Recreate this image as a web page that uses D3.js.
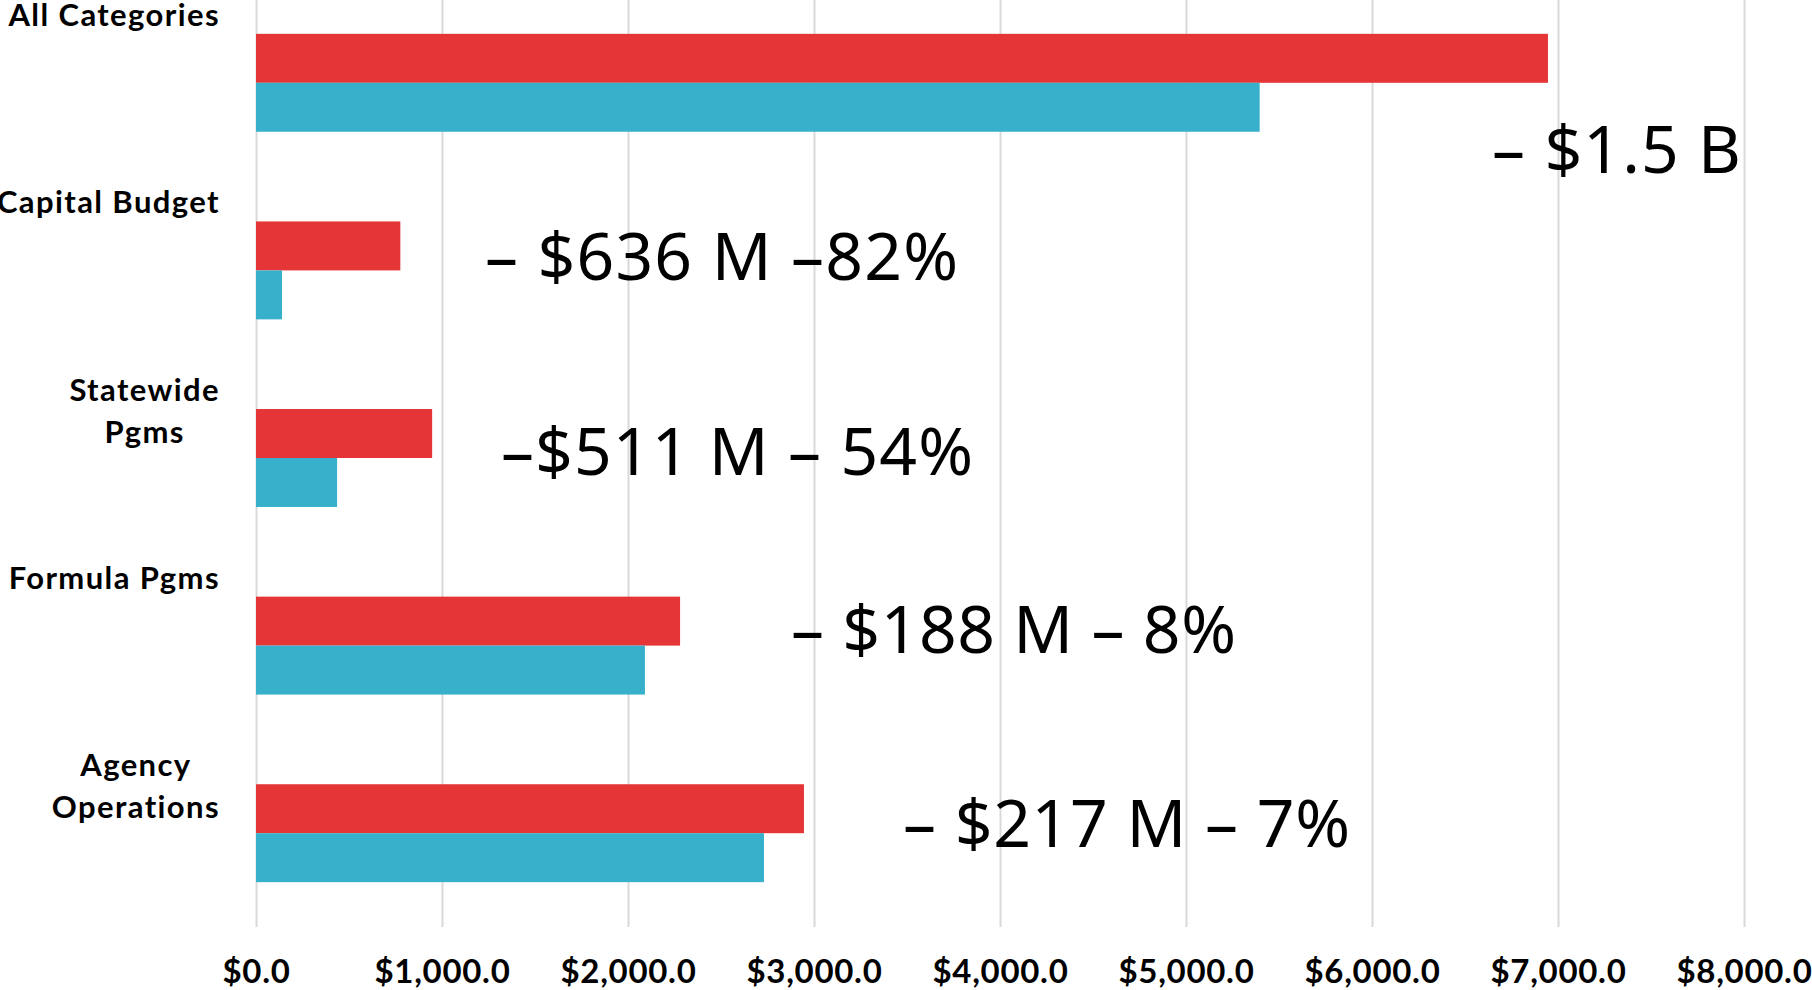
<!DOCTYPE html>
<html lang="en">
  <head>
    <meta charset="utf-8">
    <title>Budget by Category</title>
    <script type="text/javascript" src="https://cdn.jsdelivr.net/npm/d3@7"></script>
    <style>
      html, body { margin: 0; padding: 0; background: #fff; overflow: hidden; }
      .cat-label { font-family: Lato, "Open Sans", sans-serif; font-weight: 700; font-size: 31px; letter-spacing: 1.4px; fill: #000; }
      .axis-text { font-family: Lato, "Open Sans", sans-serif; font-weight: 700; font-size: 33px; letter-spacing: 0.7px; fill: #000; }
      .note { font-family: "Noto Sans", "Open Sans", sans-serif; font-weight: 400; font-size: 66px; fill: #000; }
    </style>
  </head>
  <body>
    <script type="text/javascript">
      // data ($ millions)
      var categories = ["All Categories", "Capital Budget", "Statewide Pgms", "Formula Pgms", "Agency Operations"];
      var labelLines = [["All Categories"], ["Capital Budget"], ["Statewide", "Pgms"], ["Formula Pgms"], ["Agency", "Operations"]];
      var series = ["prior", "current"];
      var priorValues = [6946, 776, 947, 2280, 2946];
      var currentValues = [5396, 140, 436, 2091, 2731];
      var tickValues = [0, 1000, 2000, 3000, 4000, 5000, 6000, 7000, 8000];
      var notes = ["– $1.5 B", "– $636 M –82%", "–$511 M – 54%", "– $188 M – 8%", "– $217 M – 7%"];

      // layout of the change notes (left x, baseline y, width)
      var noteLayout = [[1492, 173, 249], [485, 280, 473], [501, 475, 472], [791, 653, 445], [903, 847, 447]];

      var w = 1812;
      var h = 990;
      var plotBottom = 927;
      var colors = { prior: "#E53536", current: "#36B0CB" };

      var svg = d3.select("body")
        .append("svg")
        .attr("width", w)
        .attr("height", h);

      var xScale = d3.scaleLinear()
        .domain([0, 8000])
        .range([256, 1744]);

      var yScale = d3.scaleBand()
        .domain(categories)
        .range([-11, plotBottom])
        .paddingInner(0.478)
        .paddingOuter(0.239);

      var ySub = d3.scaleBand()
        .domain(series)
        .range([0, yScale.bandwidth()]);

      // gridlines + tick labels
      var xAxis = d3.axisBottom(xScale)
        .tickValues(tickValues)
        .tickSize(-(plotBottom + 11))
        .tickFormat(function(d) { return "$" + d3.format(",.1f")(d); });

      var gx = svg.append("g")
        .attr("transform", "translate(0," + plotBottom + ")")
        .call(xAxis);
      gx.select(".domain").remove();
      gx.selectAll(".tick line")
        .attr("stroke", "#D9D9D9")
        .attr("stroke-width", 2);
      gx.selectAll("text")
        .attr("class", "axis-text")
        .attr("y", 56)
        .attr("dy", 0);

      var rows = categories.map(function(c, i) {
        return { category: c, prior: priorValues[i], current: currentValues[i] };
      });

      var groups = svg.selectAll(".group")
        .data(rows)
        .enter()
        .append("g")
        .attr("class", "group")
        .attr("transform", function(d) { return "translate(0," + yScale(d.category) + ")"; });

      groups.selectAll("rect")
        .data(function(d) { return series.map(function(s) { return { key: s, value: d[s] }; }); })
        .enter()
        .append("rect")
        .attr("x", xScale(0))
        .attr("y", function(d) { return ySub(d.key); })
        .attr("width", function(d) { return xScale(d.value) - xScale(0); })
        .attr("height", ySub.bandwidth())
        .attr("fill", function(d) { return colors[d.key]; });

      // category labels, lines centred on each other, block right-aligned
      categories.forEach(function(c, i) {
        var cy = yScale(c) + yScale.bandwidth() / 2;
        var t = svg.append("text")
          .attr("class", "cat-label")
          .attr("text-anchor", "middle");
        var spans = labelLines[i].map(function(line, j) {
          return t.append("tspan")
            .attr("y", cy - 57 + j * 41.5)
            .text(line);
        });
        var maxW = d3.max(spans, function(s) { return s.node().getComputedTextLength(); });
        spans.forEach(function(s) { s.attr("x", 220 - maxW / 2); });
      });

      // change notes
      svg.selectAll(".note")
        .data(notes)
        .enter()
        .append("text")
        .attr("class", "note")
        .attr("x", function(d, i) { return noteLayout[i][0]; })
        .attr("y", function(d, i) { return noteLayout[i][1]; })
        .attr("textLength", function(d, i) { return noteLayout[i][2]; })
        .attr("lengthAdjust", "spacing")
        .text(function(d) { return d; });
    </script>
  </body>
</html>
